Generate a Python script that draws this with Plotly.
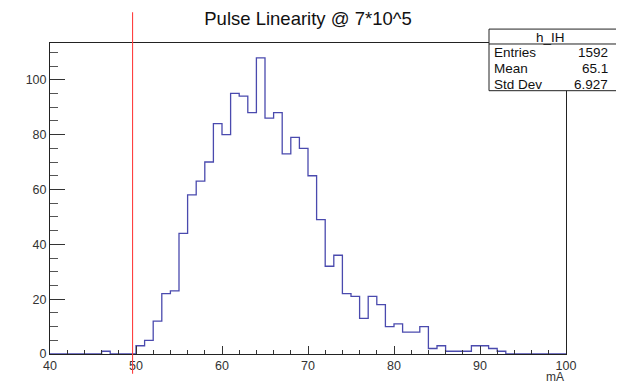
import plotly.graph_objects as go

# ---- data ----
bin_low_edges = list(range(40, 100))  # 1 mA bins, 40..100
counts = [0, 0, 0, 0, 0, 0, 1, 0, 0, 0,
          3, 5, 12, 22, 23, 44, 58, 63, 70, 84,
          80, 95, 94, 88, 108, 86, 88, 73, 79, 75,
          65, 49, 32, 36, 22, 21, 13, 21, 18, 10,
          11, 8, 8, 10, 2, 3, 1, 1, 1, 3,
          3, 2, 1, 0, 0, 0, 0, 0, 0, 0]
bin_width = 1
cut_value = 49.6
hist_name = "h_IH"
stat_labels = ["Entries", "Mean", "Std Dev"]
stat_values = ["1592", "65.1", "6.927"]
title_text = "Pulse Linearity @ 7*10^5"
x_title = "mA"

# page body has an 8px margin: figure drawn 8px right/down
OFF = 8
W, H = 624 - OFF, 385 - OFF
# frame in reference-screen pixels
FL, FR, FT, FB = 50, 566, 43, 356
L, R, T, B = FL - OFF, FR - OFF, FT - OFF, FB - OFF

def px(xp):
    return (xp - FL) / (FR - FL)

def py(yp):
    return (FB - yp) / (FB - FT)

xs = bin_low_edges + [bin_low_edges[-1] + bin_width]
ys = counts + [counts[-1]]
ymax = max(counts) * 1.05

fig = go.Figure()
fig.add_trace(go.Scatter(x=xs, y=ys, mode="lines", line_shape="hv",
                         line=dict(color="#4a4aae", width=1.3),
                         hoverinfo="skip", showlegend=False))

axis_common = dict(showline=True, linecolor="#222", linewidth=1, mirror=True,
                   showgrid=False, zeroline=False, ticks="inside",
                   tickcolor="#333", tickfont=dict(family="Liberation Sans, Arial", size=12.5, color="#333"))

fig.update_xaxes(range=[40, 100], dtick=10, tick0=40, ticklen=8,
                 minor=dict(dtick=2, ticklen=4, ticks="inside", tickcolor="#333"),
                 **axis_common)
fig.update_yaxes(range=[0, ymax], dtick=20, tick0=0, ticklen=15,
                 minor=dict(dtick=5, ticklen=8, ticks="inside", tickcolor="#555"),
                 **axis_common)

shapes = []
# red cut line
shapes.append(dict(type="line", xref="x", yref="paper", x0=cut_value, x1=cut_value,
                   y0=py(376), y1=py(12), line=dict(color="#ff4040", width=1.1), layer="above"))
# stats box
bx0, bx1, by0, by1 = px(489), px(617), py(29), py(91)
shapes.append(dict(type="rect", xref="paper", yref="paper", x0=bx0, x1=bx1, y0=by1, y1=by0,
                   fillcolor="white", line=dict(color="#222", width=1), layer="above"))
shapes.append(dict(type="line", xref="paper", yref="paper", x0=bx0, x1=bx1,
                   y0=py(44), y1=py(44), line=dict(color="#222", width=1), layer="above"))

annotations = []
font_st = dict(family="Liberation Sans, Arial", size=13.5, color="#111")
annotations.append(dict(text=hist_name, xref="paper", yref="paper", x=px(550), y=py(37),
                        xanchor="center", yanchor="middle", showarrow=False, font=font_st))
for i, (lab, val) in enumerate(zip(stat_labels, stat_values)):
    yy = py(53 + 16 * i)
    annotations.append(dict(text=lab, xref="paper", yref="paper", x=px(492), y=yy,
                            xanchor="left", yanchor="middle", showarrow=False, font=font_st))
    annotations.append(dict(text=val, xref="paper", yref="paper", x=px(610), y=yy,
                            xanchor="right", yanchor="middle", showarrow=False, font=font_st))
annotations.append(dict(text=x_title, xref="paper", yref="paper", x=1.0, y=py(379),
                        xanchor="right", yanchor="middle", showarrow=False,
                        font=dict(family="Liberation Sans, Arial", size=12, color="#333")))

fig.update_layout(
    width=W, height=H,
    margin=dict(l=L, r=W - R, t=T, b=H - B),
    paper_bgcolor="white", plot_bgcolor="white",
    title=dict(text=title_text, x=0.5, xref="paper", y=1 - (19 - OFF) / H, yref="container",
               xanchor="center", yanchor="middle",
               font=dict(family="Liberation Sans, Arial", size=18.5, color="#111")),
    shapes=shapes, annotations=annotations,
)

fig.write_html("out.html")
